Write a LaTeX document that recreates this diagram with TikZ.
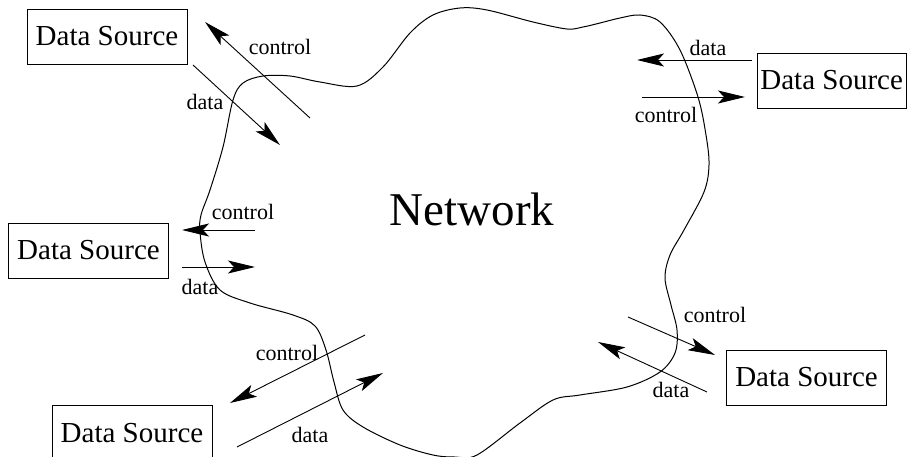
\documentclass[tikz,border=0pt]{standalone}
\usepackage{fontspec}
\setmainfont{Liberation Serif}
\usetikzlibrary{arrows.meta}
\begin{document}
\begin{tikzpicture}[x=1pt,y=-1pt,
  srcbox/.style={draw,line width=0.8pt,minimum width=160pt,minimum height=55pt,inner sep=3pt,font=\fontsize{29}{30}\selectfont},
  lbl/.style={inner sep=0pt,font=\fontsize{22}{24}\selectfont},
  flow/.style={line width=0.9pt,-{Stealth[length=27pt,width=13pt,inset=6pt]}},
  cloud/.style={line width=1pt}]
\useasboundingbox (0,0) rectangle (907,457);
% network cloud
\draw[cloud] plot[smooth cycle,tension=0.55] coordinates {
 (210,190) (201,215) (200,232) (205,262) (220,290) (250,303) (293,315) (315,326)
 (326,350) (334,382) (343,410) (363,427) (400,445) (433,455) (455,457) (477,455)
 (520,423) (553,400) (580,395) (627,387) (660,372) (675,353) (677,330) (671,305)
 (665,278) (670,255) (684,230) (704,192) (709,165) (706,135) (698,97) (680,50)
 (660,22) (640,15) (620,18) (600,23) (583,27) (567,29) (533,22) (487,10) (460,8)
 (433,15) (410,33) (383,67) (357,86) (320,82) (290,76) (263,76) (243,83) (233,100) (223,147)};
\node[font=\fontsize{47}{50}\selectfont,inner sep=0pt] (net) at (472,209) {Network};
% data sources
\node[srcbox] (tl) at (107,36.5) {Data Source};
\node[srcbox,anchor=west,minimum width=0pt] (tr) at (757,80.5) {Data Source};
\node[srcbox] (l) at (88.5,250.5) {Data Source};
\node[srcbox] (bl) at (132,433) {Data Source};
\node[srcbox] (br) at (806.5,377.5) {Data Source};
% arrow end points
\coordinate (tlcS) at (310,118); \coordinate (tlcT) at (205,22);
\coordinate (tldS) at (193,65);  \coordinate (tldT) at (280,145);
\coordinate (trdS) at (752,60);  \coordinate (trdT) at (637,60);
\coordinate (trcS) at (642,97);  \coordinate (trcT) at (745,97);
\coordinate (lcS) at (255,230);  \coordinate (lcT) at (182,230);
\coordinate (ldS) at (182,267);  \coordinate (ldT) at (255,267);
\coordinate (blcS) at (365,335); \coordinate (blcT) at (230,403);
\coordinate (bldS) at (237,447); \coordinate (bldT) at (383,373);
\coordinate (brcS) at (628,317); \coordinate (brcT) at (715,355);
\coordinate (brdS) at (707,392); \coordinate (brdT) at (598,342);
% arrows
\draw[flow] (tlcS) -- (tlcT);
\draw[flow] (tldS) -- (tldT);
\draw[flow] (trdS) -- (trdT);
\draw[flow] (trcS) -- (trcT);
\draw[flow] (lcS) -- (lcT);
\draw[flow] (ldS) -- (ldT);
\draw[flow] (blcS) -- (blcT);
\draw[flow] (bldS) -- (bldT);
\draw[flow] (brcS) -- (brcT);
\draw[flow] (brdS) -- (brdT);
% labels
\node[lbl] (tlc) at (280,47) {control};
\node[lbl] (tld) at (205,102) {data};
\node[lbl] (trd) at (708,48) {data};
\node[lbl] (trc) at (666,115) {control};
\node[lbl] (lc) at (243,212) {control};
\node[lbl] (ld) at (200,287) {data};
\node[lbl] (blc) at (287,353) {control};
\node[lbl] (bld) at (310,435) {data};
\node[lbl] (brc) at (715,315) {control};
\node[lbl] (brd) at (671,390) {data};
\end{tikzpicture}
\end{document}
